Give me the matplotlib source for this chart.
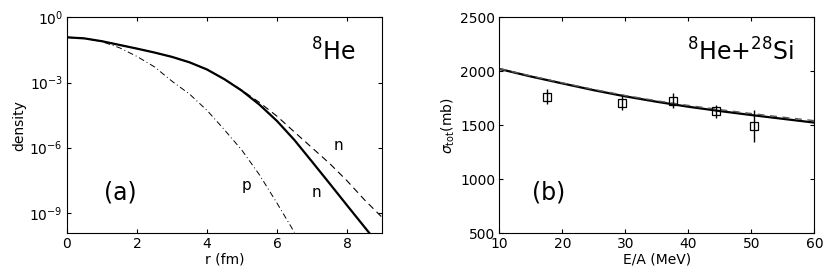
import numpy as np
import matplotlib
matplotlib.use('Agg')
import matplotlib.pyplot as plt

# panel (a): log10 of density
r_pts = [0, 0.5, 1.0, 1.5, 2.0, 2.5, 3.0, 3.5, 4.0, 4.5, 5.0, 5.5, 6.0, 6.5, 7.0, 7.5, 8.0, 8.5, 8.7]
log_n_solid = [-0.92, -0.97, -1.10, -1.27, -1.44, -1.62, -1.82, -2.07, -2.40, -2.85, -3.38,
               -4.02, -4.77, -5.65, -6.64, -7.64, -8.65, -9.65, -10.05]
r_dash = [0, 0.5, 1.0, 1.5, 2.0, 2.5, 3.0, 3.5, 4.0, 4.5, 5.0, 5.5, 6.0, 6.5, 7.0, 7.5, 8.0, 8.5, 9.0]
log_n_dash = [-0.92, -0.97, -1.10, -1.27, -1.44, -1.62, -1.82, -2.07, -2.40, -2.85, -3.36,
              -3.92, -4.55, -5.28, -6.00, -6.72, -7.52, -8.40, -9.20]
r_p = [0, 0.5, 1.0, 1.5, 2.0, 2.5, 3.0, 3.5, 4.0, 4.5, 5.0, 5.5, 6.0, 6.5]
log_p = [-0.92, -0.97, -1.12, -1.40, -1.80, -2.28, -2.94, -3.53, -4.28, -5.18, -6.12,
         -7.25, -8.55, -9.90]

# panel (b): total cross section
E_curve = [10, 15, 20, 25, 30, 35, 40, 45, 50, 55, 60]
sig_solid = [2022, 1952, 1888, 1825, 1768, 1718, 1672, 1632, 1595, 1560, 1525]
sig_dash = [2025, 1957, 1893, 1832, 1776, 1727, 1684, 1645, 1609, 1575, 1543]
E_exp = [17.5, 29.4, 37.6, 44.4, 50.5]
sig_exp = [1765, 1709, 1728, 1632, 1496]
sig_err = [68, 70, 69, 60, 147]

plt.rcParams['font.size'] = 10
plt.rcParams['axes.linewidth'] = 0.8

fig = plt.figure(figsize=(8.3, 2.73), dpi=100)
ax1 = fig.add_axes([0.0807, 0.1455, 0.3795, 0.791])
ax2 = fig.add_axes([0.6016, 0.1455, 0.3795, 0.791])

ax1.semilogy(r_pts, 10.0 ** np.array(log_n_solid), '-k', lw=1.6)
ax1.semilogy(r_dash, 10.0 ** np.array(log_n_dash), '--k', lw=0.8, dashes=(6, 4))
ax1.semilogy(r_p, 10.0 ** np.array(log_p), '-.k', lw=0.7, dashes=(6, 3, 1, 3))
ax1.set_xlim(0, 9)
ax1.set_ylim(1.15e-10, 1)
ax1.set_xticks([0, 2, 4, 6, 8])
ax1.set_yticks([1, 1e-3, 1e-6, 1e-9])
ax1.minorticks_off()
ax1.set_xlabel('r (fm)', labelpad=1)
ax1.set_ylabel('density', labelpad=2)
ax1.text(0.168, 0.187, '(a)', transform=ax1.transAxes, fontsize=17, ha='center', va='center')
ax1.text(0.845, 0.84, r'$^{8}$He', transform=ax1.transAxes, fontsize=17, ha='center', va='center')
ax1.text(7.77, 10 ** -5.88, 'n', fontsize=11, ha='center', va='center')
ax1.text(7.13, 10 ** -8.08, 'n', fontsize=11, ha='center', va='center')
ax1.text(5.13, 10 ** -7.73, 'p', fontsize=11, ha='center', va='center')

ax2.plot(E_curve, sig_solid, '-k', lw=1.6)
ax2.plot(E_curve, sig_dash, '--', color='0.35', lw=1.0, dashes=(5, 4))
ax2.errorbar(E_exp, sig_exp, yerr=sig_err, fmt='s', mfc='none', mec='k', ecolor='k',
             ms=6, mew=0.9, elinewidth=1.0, capsize=0)
ax2.set_xlim(10, 60)
ax2.set_ylim(500, 2500)
ax2.set_xticks([10, 20, 30, 40, 50, 60])
ax2.set_yticks([500, 1000, 1500, 2000, 2500])
ax2.set_xlabel('E/A (MeV)', labelpad=1)
ax2.set_ylabel(r'$\sigma_{\rm tot}$(mb)', labelpad=2)
ax2.text(0.767, 0.839, r'$^{8}$He+$^{28}$Si', transform=ax2.transAxes, fontsize=17,
         ha='center', va='center')
ax2.text(0.156, 0.187, '(b)', transform=ax2.transAxes, fontsize=17, ha='center', va='center')

for ax in (ax1, ax2):
    ax.tick_params(direction='in', top=True, right=True, length=3, width=0.8, pad=3)

fig.savefig('out.png', dpi=100)
